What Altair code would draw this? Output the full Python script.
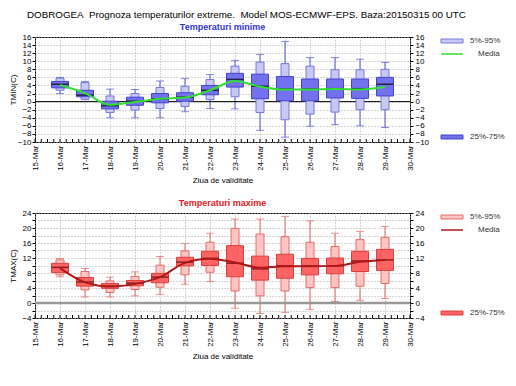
import altair as alt
import pandas as pd

days = [16, 17, 18, 19, 20, 21, 22, 23, 24, 25, 26, 27, 28, 29]

# Temperaturi minime (TMIN)
tmin_min = [2.0, 0.5, -4.0, -4.0, -4.0, -2.5, -1.7, -1.8, -7.1, -8.8, -6.1, -5.7, -6.0, -6.4]
tmin_p5 = [2.8, 0.6, -2.7, -2.1, -1.7, -1.2, 0.5, 1.2, -2.7, -4.5, -3.1, -2.6, -2.0, -2.0]
tmin_p25 = [3.4, 1.2, -1.8, -0.9, -0.3, 0.1, 1.7, 3.6, 0.7, 0.2, 0.2, 0.9, 0.8, 1.4]
tmin_p50 = [4.3, 1.6, -1.0, 0.1, 0.7, 1.1, 2.8, 5.5, 3.8, 3.1, 3.1, 3.2, 3.2, 4.3]
tmin_p75 = [5.0, 2.8, 0.1, 1.1, 2.0, 2.2, 4.0, 7.0, 6.8, 6.2, 5.6, 5.6, 5.6, 6.0]
tmin_p95 = [5.8, 4.7, 1.4, 2.0, 3.5, 3.8, 5.5, 8.8, 9.8, 9.4, 8.8, 7.9, 7.9, 8.0]
tmin_max = [6.0, 5.0, 3.1, 3.0, 5.1, 5.7, 6.7, 10.2, 11.7, 14.9, 10.9, 10.9, 10.5, 9.7]
tmin_mean = [4.1, 2.1, -0.8, -0.1, 0.7, 1.0, 2.8, 5.1, 3.7, 3.0, 3.0, 3.1, 3.0, 3.6]

# Temperaturi maxime (TMAX)
tmax_min = [7.0, 1.6, 1.6, 1.9, 2.3, 5.0, 5.7, -1.4, -2.8, -2.5, -1.7, 0.4, 0.7, 1.2]
tmax_p5 = [7.5, 3.5, 2.8, 3.6, 4.2, 7.5, 8.2, 3.2, 1.9, 3.2, 4.1, 4.1, 4.5, 5.2]
tmax_p25 = [8.1, 4.5, 3.9, 4.6, 5.4, 9.9, 10.0, 7.0, 6.1, 6.6, 7.5, 7.8, 8.4, 8.7]
tmax_p50 = [9.5, 5.6, 4.5, 5.3, 6.9, 10.9, 11.9, 10.6, 9.1, 9.9, 9.9, 9.9, 11.2, 11.5]
tmax_p75 = [10.6, 6.8, 5.2, 6.0, 7.9, 12.2, 13.8, 15.3, 12.5, 13.0, 11.9, 12.0, 13.8, 14.3]
tmax_p95 = [11.5, 8.4, 5.9, 7.1, 10.1, 13.9, 16.2, 19.9, 18.4, 17.7, 16.2, 15.1, 16.9, 17.5]
tmax_max = [11.9, 9.2, 6.9, 8.3, 12.4, 15.9, 18.6, 22.4, 22.4, 23.1, 21.9, 18.6, 19.1, 20.4]
tmax_mean = [9.3, 5.5, 4.4, 5.1, 6.9, 10.7, 11.8, 10.8, 9.4, 9.8, 9.8, 9.9, 11.0, 11.5]

x_ticks = [15, 16, 17, 18, 19, 20, 21, 22, 23, 24, 25, 26, 27, 28, 29, 30]
minor_ticks = [15 + q / 4 for q in range(61)]
tmin_yticks = [-10, -8, -6, -4, -2, 0, 2, 4, 6, 8, 10, 12, 14, 16]
tmax_yticks = [-4, -2, 0, 2, 4, 6, 8, 10, 12, 14, 16, 18, 20, 22, 24]
legend_labels = ["5%-95%", "Media", "25%-75%"]

main_title = "DOBROGEA\u00a0 Prognoza temperaturilor extreme.\u00a0 Model MOS-ECMWF-EPS. Baza:20150315 00 UTC"
sub_min = "Temperaturi minime"
sub_max = "Temperaturi maxime"
x_title = "Ziua de validitate"
FONT = "Liberation Sans"
W, H = 375, 105


def panel(lo, p5, p25, p50, p75, p95, hi, mean, ydom, yticks, ytitle,
          subtitle, title_color, pal, zero_color, zero_width, with_main):
    df = pd.DataFrame({"day": days, "lo": lo, "p5": p5, "p25": p25, "p50": p50,
                       "p75": p75, "p95": p95, "hi": hi, "mean": mean})
    xs = alt.Scale(domain=[15, 30], nice=False, zero=False, padding=0)
    xax = alt.Axis(values=x_ticks, labelExpr="datum.value + '-Mar'", labelAngle=270,
                   grid=True, gridDash=[1, 2], gridColor="#aaaaaa", ticks=False, tickSize=0,
                   domain=False, title=x_title, labelPadding=3,
                   titleX=W / 2, titleY=38, titleAlign="center", titleBaseline="middle",
                   labelFontSize=8, titleFontSize=8, titleFontWeight="normal")
    X = alt.X("day:Q", scale=xs, axis=xax)
    ys = alt.Scale(domain=ydom, nice=False, zero=False, padding=0)
    left_axis = alt.Axis(orient="left", values=yticks, grid=True, gridDash=[1, 2],
                         gridColor="#aaaaaa", tickSize=3, labelPadding=1, domain=False,
                         title=ytitle, titleX=-22, titleY=H / 2, titleAngle=270,
                         titleAlign="center", titleBaseline="middle",
                         labelFontSize=8, titleFontSize=8, titleFontWeight="normal")
    right_axis = alt.Axis(orient="right", values=yticks, grid=False, tickSize=3,
                          labelPadding=2, domain=False, title=None, labelFontSize=8)
    base = alt.Chart(df)

    zero = alt.Chart(pd.DataFrame({"v": [0]})).mark_rule(
        color=zero_color, strokeWidth=zero_width).encode(
        y=alt.Y("v:Q", scale=ys, axis=right_axis))

    whisk = base.mark_rule(color=pal["whisker"], strokeWidth=1).encode(
        x=X, y=alt.Y("lo:Q", scale=ys, axis=left_axis), y2="hi:Q")
    cap_hi = base.mark_tick(orient="horizontal", size=8, thickness=1,
                            color=pal["whisker"]).encode(
        x=X, y=alt.Y("hi:Q", scale=ys, axis=None))
    cap_lo = base.mark_tick(orient="horizontal", size=8, thickness=1,
                            color=pal["whisker"]).encode(
        x=X, y=alt.Y("lo:Q", scale=ys, axis=None))
    light = base.mark_bar(size=8, fill=pal["light"], stroke=pal["light_stroke"],
                          strokeWidth=1).encode(
        x=X, y=alt.Y("p5:Q", scale=ys, axis=None), y2="p95:Q")
    dark = base.mark_bar(size=17, fill=pal["dark"], stroke=pal["dark_stroke"],
                         strokeWidth=1).encode(
        x=X, y=alt.Y("p25:Q", scale=ys, axis=None), y2="p75:Q")
    med = base.mark_tick(orient="horizontal", size=17, thickness=1.5,
                         color=pal["median"]).encode(
        x=X, y=alt.Y("p50:Q", scale=ys, axis=None))
    line = base.mark_line(color=pal["mean"], strokeWidth=2,
                          interpolate="monotone").encode(
        x=X, y=alt.Y("mean:Q", scale=ys, axis=None))

    mt = alt.Chart(pd.DataFrame({"day": minor_ticks})).mark_rule(
        color="black", strokeWidth=1).encode(
        x=X, y=alt.value(H), y2=alt.value(H - 3))

    one = pd.DataFrame({"k": [0]})
    sub = alt.Chart(one).mark_text(align="center", baseline="middle", fontSize=9,
                                   font=FONT, fontWeight="bold", color=title_color).encode(
        x=alt.value(W / 2), y=alt.value(-10), text=alt.value(subtitle))
    layers = [whisk, zero, cap_hi, cap_lo, light, dark, med, line, mt, sub]
    if with_main:
        mtxt = alt.Chart(one).mark_text(align="left", baseline="middle", fontSize=9.8,
                                        font=FONT, color="#000000").encode(
            x=alt.value(-8), y=alt.value(-22), text=alt.value(main_title))
        layers.append(mtxt)

    leg_light = alt.Chart(one).mark_rect(fill=pal["light"], stroke=pal["light_stroke"],
                                         strokeWidth=1).encode(
        x=alt.value(406), x2=alt.value(428), y=alt.value(2), y2=alt.value(6))
    leg_t1 = alt.Chart(one).mark_text(align="left", baseline="middle", fontSize=8,
                                      font=FONT, color="#333333").encode(
        x=alt.value(435), y=alt.value(4), text=alt.value(legend_labels[0]))
    leg_line = alt.Chart(one).mark_rule(color=pal["mean"], strokeWidth=1.5).encode(
        x=alt.value(406), x2=alt.value(428), y=alt.value(17))
    leg_t2 = alt.Chart(one).mark_text(align="left", baseline="middle", fontSize=8,
                                      font=FONT, color="#333333").encode(
        x=alt.value(443), y=alt.value(17), text=alt.value(legend_labels[1]))
    leg_dark = alt.Chart(one).mark_rect(fill=pal["dark"], stroke=pal["dark_stroke"],
                                        strokeWidth=1).encode(
        x=alt.value(406), x2=alt.value(428), y=alt.value(98), y2=alt.value(102))
    leg_t3 = alt.Chart(one).mark_text(align="left", baseline="middle", fontSize=8,
                                      font=FONT, color="#333333").encode(
        x=alt.value(435), y=alt.value(100), text=alt.value(legend_labels[2]))
    layers += [leg_light, leg_t1, leg_line, leg_t2, leg_dark, leg_t3]

    return alt.layer(*layers).resolve_axis(y="independent").properties(width=W, height=H)


blue = {"whisker": "#5555d5", "light": "#c8c8f5", "light_stroke": "#7777e0",
        "dark": "#7272ee", "dark_stroke": "#4444cc", "median": "#000000",
        "mean": "#33dd33"}
red = {"whisker": "#e06666", "light": "#ffc4c4", "light_stroke": "#e86a6a",
       "dark": "#ff6464", "dark_stroke": "#d84040", "median": "#5a0000",
       "mean": "#b01818"}

top = panel(tmin_min, tmin_p5, tmin_p25, tmin_p50, tmin_p75, tmin_p95, tmin_max, tmin_mean,
            [-10, 16], tmin_yticks, "TMIN(C)", sub_min, "#3333cc", blue,
            "#000000", 1, True)
bot = panel(tmax_min, tmax_p5, tmax_p25, tmax_p50, tmax_p75, tmax_p95, tmax_max, tmax_mean,
            [-4, 24], tmax_yticks, "TMAX(C)", sub_max, "#e02020", red,
            "#999999", 2.5, False)

chart = alt.vconcat(top, bot, spacing=13).properties(
    padding={"left": 0, "top": 1, "right": 2, "bottom": 2},
).configure_view(stroke="black", strokeWidth=1).configure_axis(
    labelFont=FONT, titleFont=FONT, labelColor="#000000", titleColor="#000000",
    tickColor="#000000")

chart.save("out.html", embed_options={"renderer": "svg", "actions": False})
